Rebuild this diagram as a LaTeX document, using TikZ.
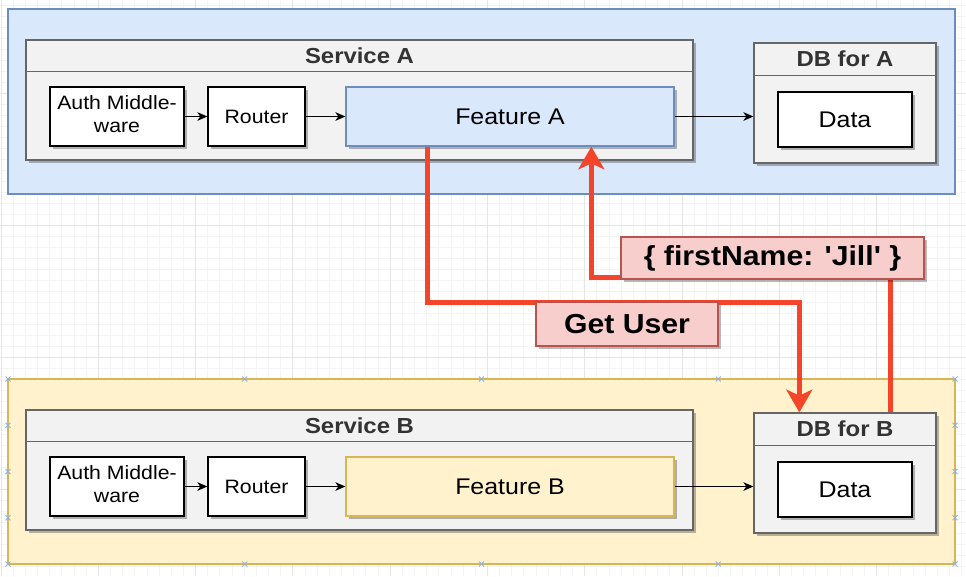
\documentclass[tikz,border=0pt]{standalone}
\usepackage{fontspec}
\setmainfont{Liberation Sans}
\usetikzlibrary{arrows.meta,shadows,fit,calc}
\definecolor{blueF}{HTML}{DAE8FC}
\definecolor{blueS}{HTML}{6C8EBF}
\definecolor{yelF}{HTML}{FFF2CC}
\definecolor{yelS}{HTML}{D6B656}
\definecolor{grayF}{HTML}{F2F2F2}
\definecolor{grayS}{HTML}{666666}
\definecolor{redF}{HTML}{F8CECC}
\definecolor{redS}{HTML}{B85450}
\definecolor{redL}{HTML}{F4452B}
\definecolor{titleC}{HTML}{333333}
\definecolor{gridMinor}{HTML}{F4F4F4}
\definecolor{gridMajor}{HTML}{E5E5E5}
\definecolor{handleC}{HTML}{8DB2DE}
\newcommand{\sx}[1]{\scalebox{1.1}[1]{#1}}
\newcommand{\fsmall}{\fontsize{14.5pt}{17.5pt}\selectfont}
\newcommand{\ffeat}{\fontsize{17pt}{20pt}\selectfont}
\newcommand{\ftitle}{\fontsize{16.3pt}{19pt}\selectfont\bfseries}
\newcommand{\flabel}{\fontsize{20.6pt}{24pt}\selectfont\bfseries}
\tikzset{
  shad/.style={drop shadow={shadow xshift=2pt, shadow yshift=-2pt, fill=black, opacity=0.28}},
  regionbox/.style={draw=#1, line width=0.9pt, inner sep=0pt},
  container/.style={draw=grayS, fill=grayF, line width=1pt, inner sep=0pt, shad},
  hdrline/.style={draw=grayS, line width=1pt},
  titletext/.style={text=titleC, font=\ftitle, inner sep=0pt},
  whitebox/.style={draw=black, fill=white, line width=1pt, inner sep=0pt, shad, font=\fsmall, align=center},
  featbox/.style={line width=1pt, inner sep=0pt, shad, font=\ffeat},
  databox/.style={draw=black, fill=white, line width=1pt, inner sep=0pt, shad, font=\ffeat},
  lbl/.style={draw=redS, fill=redF, line width=1pt, inner sep=0pt, shad, font=\flabel},
  arr/.style={draw=black, line width=0.8pt, -{Stealth[length=7.5pt,width=6.5pt,inset=2.2pt]}},
  redarr/.style={draw=redL, line width=4pt, -{Stealth[length=17pt,width=19.5pt,inset=4.5pt]}},
  handle/.style={draw=handleC, line width=0.6pt},
}
\begin{document}
\begin{tikzpicture}[x=0.75pt,y=-0.75pt]
\useasboundingbox (0,0) rectangle (966,576);
\fill[white] (0,0) rectangle (966,576);
% grid
\foreach \i in {0,...,80} {\draw[gridMinor, line width=0.6pt] (1+\i*12.16,0) -- (1+\i*12.16,576);}
\foreach \i in {0,...,53} {\draw[gridMinor, line width=0.6pt] (0,5+\i*11) -- (966,5+\i*11);}
\foreach \i in {0,...,10} {\draw[gridMajor, line width=0.7pt] (1+\i*97.3,0) -- (1+\i*97.3,576);}
\foreach \i in {0,...,4} {\draw[gridMajor, line width=0.7pt] (0,93+\i*132-132) -- (966,93+\i*132-132);}

% regions
\node[regionbox=blueS, fill=blueF, fit={(8,9) (955,194)}] (regA) {};
\node[regionbox=yelS, fill=yelF, fit={(8,379) (955,564)}] (regB) {};
\foreach \xx in {8,244.75,481.5,718.25,955} {
  \foreach \yy in {379,564} {\draw[handle] (\xx-2.5,\yy-2.5) -- (\xx+2.5,\yy+2.5) (\xx-2.5,\yy+2.5) -- (\xx+2.5,\yy-2.5);}
}
\foreach \yy in {425.25,471.5,517.75} {
  \foreach \xx in {8,955} {\draw[handle] (\xx-2.5,\yy-2.5) -- (\xx+2.5,\yy+2.5) (\xx-2.5,\yy+2.5) -- (\xx+2.5,\yy-2.5);}
}

% ---- Service A ----
\node[container, fit={(26,40) (693,160)}] (svcA) {};
\draw[hdrline] ($(svcA.north west)+(0,32)$) -- ($(svcA.north east)+(0,32)$);
\node[titletext] (svcAt) at ($(svcA.north)+(0,16)$) {\sx{Service A}};
\node[whitebox, fit={(50,87) (184,146)}] (authA) {};
\node[font=\fsmall, align=center, inner sep=0pt] (authAt) at (authA.center) {\sx{\begin{tabular}{@{}c@{}}Auth Middle-\\[0pt]ware\end{tabular}}};
\node[whitebox, fit={(208,87) (305,146)}] (routA) {};
\node[font=\fsmall, inner sep=0pt] (routAt) at (routA.center) {\sx{Router}};
\node[featbox, draw=blueS, fill=blueF, fit={(346,87) (674,146)}] (featA) {};
\node[font=\ffeat, inner sep=0pt] (featAt) at (featA.center) {\sx{Feature A}};

\node[container, fit={(754,43) (936,163)}] (dbA) {};
\draw[hdrline] ($(dbA.north west)+(0,33)$) -- ($(dbA.north east)+(0,33)$);
\node[titletext] (dbAt) at ($(dbA.north)+(0,16.5)$) {\sx{DB for A}};
\node[databox, fit={(778,92) (912,147)}] (dataA) {};
\node[font=\ffeat, inner sep=0pt] (dataAt) at (dataA.center) {\sx{Data}};

\draw[arr] (authA.east) -- (routA.west);
\draw[arr] (routA.east) -- (featA.west);
\draw[arr] (featA.east) -- (featA.east -| dbA.west);

% ---- Service B ----
\node[container, fit={(26,410) (693,530)}] (svcB) {};
\draw[hdrline] ($(svcB.north west)+(0,32)$) -- ($(svcB.north east)+(0,32)$);
\node[titletext] (svcBt) at ($(svcB.north)+(0,16)$) {\sx{Service B}};
\node[whitebox, fit={(50,457) (184,516)}] (authB) {};
\node[font=\fsmall, align=center, inner sep=0pt] (authBt) at (authB.center) {\sx{\begin{tabular}{@{}c@{}}Auth Middle-\\[0pt]ware\end{tabular}}};
\node[whitebox, fit={(208,457) (305,516)}] (routB) {};
\node[font=\fsmall, inner sep=0pt] (routBt) at (routB.center) {\sx{Router}};
\node[featbox, draw=yelS, fill=yelF, fit={(346,457) (674,516)}] (featB) {};
\node[font=\ffeat, inner sep=0pt] (featBt) at (featB.center) {\sx{Feature B}};

\node[container, fit={(754,413) (936,533)}] (dbB) {};
\draw[hdrline] ($(dbB.north west)+(0,33)$) -- ($(dbB.north east)+(0,33)$);
\node[titletext] (dbBt) at ($(dbB.north)+(0,16.5)$) {\sx{DB for B}};
\node[databox, fit={(778,462) (912,517)}] (dataB) {};
\node[font=\ffeat, inner sep=0pt] (dataBt) at (dataB.center) {\sx{Data}};

\draw[arr] (authB.east) -- (routB.west);
\draw[arr] (routB.east) -- (featB.west);
\draw[arr] (featB.east) -- (featB.east -| dbB.west);

% ---- red request / response ----
\draw[redarr] ($(featA.south west)+(82,0)$) -- ++(0,156) -| ($(dbB.north west)+(46,0)$);
\draw[redarr] ($(dbB.north west)+(137,0)$) -- ++(0,-135) -| ($(featA.south west)+(246,0)$);

\node[lbl, fit={(536,302) (718,346)}] (getU) {};
\node[font=\flabel, inner sep=0pt] (getUt) at (getU.center) {\sx{Get User}};
\node[lbl, fit={(621,237) (924,279)}] (resp) {};
\node[font=\flabel, inner sep=0pt] (respt) at (resp.center) {\sx{\{ firstName: \textquotesingle Jill\textquotesingle\ \}}};
\end{tikzpicture}
\end{document}
